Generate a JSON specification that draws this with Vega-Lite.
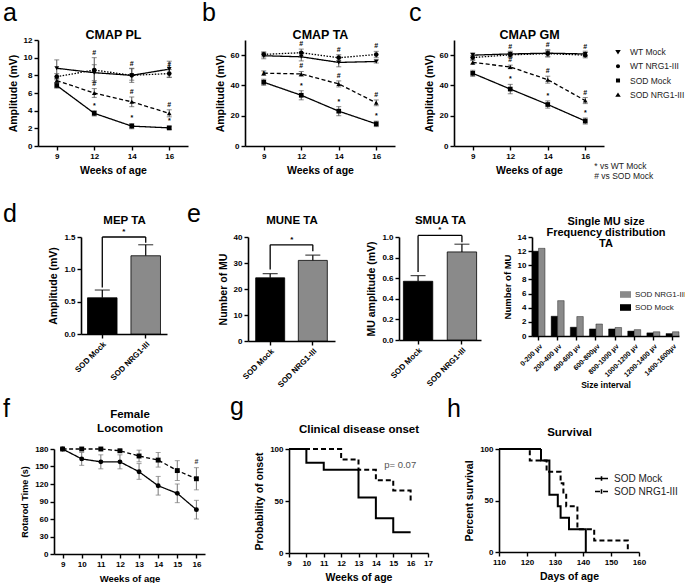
{
  "$schema": "https://vega.github.io/schema/vega-lite/v6.json",
  "padding": {"left": 2, "top": 1, "right": 0, "bottom": 0},
  "background": "white",
  "config": {
    "font": "Liberation Sans",
    "view": {"stroke": null},
    "axis": {"grid": false, "domainColor": "black", "domainWidth": 1.6, "tickColor": "black", "tickWidth": 1.4, "tickSize": 4, "labelColor": "black", "labelFontSize": 8, "labelFontWeight": "bold", "labelFont": "Liberation Sans", "labelPadding": 2, "labelOverlap": false, "labelFlush": false, "titleColor": "black", "titleFontSize": 10.5, "titleFontWeight": "bold", "titleFont": "Liberation Sans", "titlePadding": 5},
    "title": {"anchor": "start", "frame": "group", "fontSize": 25, "fontWeight": "normal", "color": "black", "font": "Liberation Sans", "offset": 0},
    "legend": {"labelFontSize": 8.5, "labelColor": "#222", "labelFont": "Liberation Sans"}
  },
  "datasets": {
    "cmap": [
      {"panel": "a", "group": "WT Mock", "week": 9, "mean": 8.8, "lo": 7.85, "hi": 9.75, "sig": ""},
      {"panel": "a", "group": "WT Mock", "week": 12, "mean": 8.3, "lo": 7.4, "hi": 9.2, "sig": ""},
      {"panel": "a", "group": "WT Mock", "week": 14, "mean": 8.0, "lo": 7.2, "hi": 8.8, "sig": ""},
      {"panel": "a", "group": "WT Mock", "week": 16, "mean": 8.7, "lo": 7.8, "hi": 9.6, "sig": ""},
      {"panel": "a", "group": "WT NRG1-III", "week": 9, "mean": 7.85, "lo": 7.5, "hi": 8.2, "sig": ""},
      {"panel": "a", "group": "WT NRG1-III", "week": 12, "mean": 8.6, "lo": 7.2, "hi": 10.0, "sig": "#"},
      {"panel": "a", "group": "WT NRG1-III", "week": 14, "mean": 8.0, "lo": 7.45, "hi": 8.75, "sig": "#"},
      {"panel": "a", "group": "WT NRG1-III", "week": 16, "mean": 8.2, "lo": 7.75, "hi": 8.65, "sig": "#"},
      {"panel": "a", "group": "SOD Mock", "week": 9, "mean": 6.85, "lo": 6.55, "hi": 7.15, "sig": ""},
      {"panel": "a", "group": "SOD Mock", "week": 12, "mean": 3.7, "lo": 3.4, "hi": 4.0, "sig": "*"},
      {"panel": "a", "group": "SOD Mock", "week": 14, "mean": 2.25, "lo": 1.95, "hi": 2.55, "sig": "*"},
      {"panel": "a", "group": "SOD Mock", "week": 16, "mean": 2.05, "lo": 1.85, "hi": 2.25, "sig": "*"},
      {"panel": "a", "group": "SOD NRG1-III", "week": 9, "mean": 7.4, "lo": 7.15, "hi": 7.65, "sig": ""},
      {"panel": "a", "group": "SOD NRG1-III", "week": 12, "mean": 6.0, "lo": 5.5, "hi": 6.5, "sig": "#"},
      {"panel": "a", "group": "SOD NRG1-III", "week": 14, "mean": 5.0, "lo": 4.45, "hi": 5.55, "sig": "#"},
      {"panel": "a", "group": "SOD NRG1-III", "week": 16, "mean": 3.7, "lo": 3.3, "hi": 4.1, "sig": "#"},
      {"panel": "b", "group": "WT Mock", "week": 9, "mean": 59.6, "lo": 57.6, "hi": 61.6, "sig": ""},
      {"panel": "b", "group": "WT Mock", "week": 12, "mean": 58.9, "lo": 56.2, "hi": 61.6, "sig": ""},
      {"panel": "b", "group": "WT Mock", "week": 14, "mean": 55.2, "lo": 52.3, "hi": 58.1, "sig": ""},
      {"panel": "b", "group": "WT Mock", "week": 16, "mean": 55.8, "lo": 54.8, "hi": 56.8, "sig": ""},
      {"panel": "b", "group": "WT NRG1-III", "week": 9, "mean": 60.5, "lo": 58.8, "hi": 62.2, "sig": ""},
      {"panel": "b", "group": "WT NRG1-III", "week": 12, "mean": 61.6, "lo": 59.2, "hi": 64.0, "sig": "#"},
      {"panel": "b", "group": "WT NRG1-III", "week": 14, "mean": 58.3, "lo": 56.3, "hi": 60.3, "sig": "#"},
      {"panel": "b", "group": "WT NRG1-III", "week": 16, "mean": 60.4, "lo": 58.3, "hi": 62.5, "sig": "#"},
      {"panel": "b", "group": "SOD Mock", "week": 9, "mean": 42.1, "lo": 40.1, "hi": 44.1, "sig": "*"},
      {"panel": "b", "group": "SOD Mock", "week": 12, "mean": 33.5, "lo": 30.5, "hi": 36.5, "sig": "*"},
      {"panel": "b", "group": "SOD Mock", "week": 14, "mean": 23.0, "lo": 20.0, "hi": 26.0, "sig": "*"},
      {"panel": "b", "group": "SOD Mock", "week": 16, "mean": 14.6, "lo": 12.8, "hi": 16.4, "sig": "*"},
      {"panel": "b", "group": "SOD NRG1-III", "week": 9, "mean": 48.1, "lo": 46.6, "hi": 49.6, "sig": ""},
      {"panel": "b", "group": "SOD NRG1-III", "week": 12, "mean": 47.6, "lo": 46.0, "hi": 49.2, "sig": "#"},
      {"panel": "b", "group": "SOD NRG1-III", "week": 14, "mean": 41.0, "lo": 39.0, "hi": 43.0, "sig": "#"},
      {"panel": "b", "group": "SOD NRG1-III", "week": 16, "mean": 28.5, "lo": 26.6, "hi": 30.4, "sig": "#"},
      {"panel": "c", "group": "WT Mock", "week": 9, "mean": 60.0, "lo": 58.5, "hi": 61.5, "sig": ""},
      {"panel": "c", "group": "WT Mock", "week": 12, "mean": 60.8, "lo": 59.0, "hi": 62.6, "sig": ""},
      {"panel": "c", "group": "WT Mock", "week": 14, "mean": 61.3, "lo": 59.0, "hi": 63.6, "sig": ""},
      {"panel": "c", "group": "WT Mock", "week": 16, "mean": 60.8, "lo": 59.0, "hi": 62.6, "sig": ""},
      {"panel": "c", "group": "WT NRG1-III", "week": 9, "mean": 58.4, "lo": 57.0, "hi": 59.8, "sig": ""},
      {"panel": "c", "group": "WT NRG1-III", "week": 12, "mean": 60.2, "lo": 58.4, "hi": 62.0, "sig": "#"},
      {"panel": "c", "group": "WT NRG1-III", "week": 14, "mean": 61.0, "lo": 58.8, "hi": 63.2, "sig": "#"},
      {"panel": "c", "group": "WT NRG1-III", "week": 16, "mean": 60.0, "lo": 58.2, "hi": 61.8, "sig": "#"},
      {"panel": "c", "group": "SOD Mock", "week": 9, "mean": 48.0, "lo": 46.0, "hi": 50.0, "sig": "*"},
      {"panel": "c", "group": "SOD Mock", "week": 12, "mean": 37.6, "lo": 34.5, "hi": 40.7, "sig": "*"},
      {"panel": "c", "group": "SOD Mock", "week": 14, "mean": 27.4, "lo": 25.0, "hi": 29.8, "sig": "*"},
      {"panel": "c", "group": "SOD Mock", "week": 16, "mean": 16.5, "lo": 14.5, "hi": 18.5, "sig": "*"},
      {"panel": "c", "group": "SOD NRG1-III", "week": 9, "mean": 55.2, "lo": 54.0, "hi": 56.4, "sig": ""},
      {"panel": "c", "group": "SOD NRG1-III", "week": 12, "mean": 52.2, "lo": 51.0, "hi": 53.4, "sig": "#"},
      {"panel": "c", "group": "SOD NRG1-III", "week": 14, "mean": 43.8, "lo": 41.5, "hi": 46.1, "sig": "#"},
      {"panel": "c", "group": "SOD NRG1-III", "week": 16, "mean": 30.0, "lo": 28.0, "hi": 32.0, "sig": "#"}
    ],
    "bars": [
      {"panel": "d", "group": "SOD Mock", "mean": 0.56, "hi": 0.68},
      {"panel": "d", "group": "SOD NRG1-III", "mean": 1.21, "hi": 1.38},
      {"panel": "e1", "group": "SOD Mock", "mean": 24.3, "hi": 25.9},
      {"panel": "e1", "group": "SOD NRG1-III", "mean": 31.0, "hi": 33.0},
      {"panel": "e2", "group": "SOD Mock", "mean": 0.57, "hi": 0.625},
      {"panel": "e2", "group": "SOD NRG1-III", "mean": 0.855, "hi": 0.93}
    ],
    "brackets": [
      {"panel": "d", "xa": "SOD Mock", "xb": "SOD Mock", "ya": 0.72, "yb": 1.5, "star": ""},
      {"panel": "d", "xa": "SOD Mock", "xb": "SOD NRG1-III", "ya": 1.5, "yb": 1.5, "star": "*"},
      {"panel": "d", "xa": "SOD NRG1-III", "xb": "SOD NRG1-III", "ya": 1.41, "yb": 1.5, "star": ""},
      {"panel": "e1", "xa": "SOD Mock", "xb": "SOD Mock", "ya": 27.5, "yb": 37, "star": ""},
      {"panel": "e1", "xa": "SOD Mock", "xb": "SOD NRG1-III", "ya": 37, "yb": 37, "star": "*"},
      {"panel": "e1", "xa": "SOD NRG1-III", "xb": "SOD NRG1-III", "ya": 34.5, "yb": 37, "star": ""},
      {"panel": "e2", "xa": "SOD Mock", "xb": "SOD Mock", "ya": 0.66, "yb": 1.015, "star": ""},
      {"panel": "e2", "xa": "SOD Mock", "xb": "SOD NRG1-III", "ya": 1.015, "yb": 1.015, "star": "*"},
      {"panel": "e2", "xa": "SOD NRG1-III", "xb": "SOD NRG1-III", "ya": 0.95, "yb": 1.015, "star": ""}
    ],
    "hist": [
      {"interval": "0-200 μv", "group": "SOD Mock", "count": 12.0},
      {"interval": "0-200 μv", "group": "SOD NRG1-III", "count": 12.4},
      {"interval": "200-400 μv", "group": "SOD Mock", "count": 2.8},
      {"interval": "200-400 μv", "group": "SOD NRG1-III", "count": 5.0},
      {"interval": "400-600 μv", "group": "SOD Mock", "count": 1.25},
      {"interval": "400-600 μv", "group": "SOD NRG1-III", "count": 2.75},
      {"interval": "600-800μv", "group": "SOD Mock", "count": 1.0},
      {"interval": "600-800μv", "group": "SOD NRG1-III", "count": 1.7},
      {"interval": "800-1000 μv", "group": "SOD Mock", "count": 1.0},
      {"interval": "800-1000 μv", "group": "SOD NRG1-III", "count": 1.2},
      {"interval": "1000-1200 μv", "group": "SOD Mock", "count": 0.7},
      {"interval": "1000-1200 μv", "group": "SOD NRG1-III", "count": 0.9},
      {"interval": "1200-1400 μv", "group": "SOD Mock", "count": 0.45},
      {"interval": "1200-1400 μv", "group": "SOD NRG1-III", "count": 0.6},
      {"interval": "1400-1600μv", "group": "SOD Mock", "count": 0.35},
      {"interval": "1400-1600μv", "group": "SOD NRG1-III", "count": 0.6}
    ],
    "loco": [
      {"group": "SOD Mock", "week": 9, "mean": 180, "lo": 180, "hi": 180, "sig": ""},
      {"group": "SOD Mock", "week": 10, "mean": 163, "lo": 152, "hi": 174, "sig": ""},
      {"group": "SOD Mock", "week": 11, "mean": 158, "lo": 146, "hi": 170, "sig": ""},
      {"group": "SOD Mock", "week": 12, "mean": 158, "lo": 146, "hi": 170, "sig": ""},
      {"group": "SOD Mock", "week": 13, "mean": 141, "lo": 128, "hi": 155, "sig": ""},
      {"group": "SOD Mock", "week": 14, "mean": 117, "lo": 101, "hi": 133, "sig": ""},
      {"group": "SOD Mock", "week": 15, "mean": 104, "lo": 88, "hi": 120, "sig": ""},
      {"group": "SOD Mock", "week": 16, "mean": 76, "lo": 60, "hi": 92, "sig": ""},
      {"group": "SOD NRG1-III", "week": 9, "mean": 180, "lo": 180, "hi": 180, "sig": ""},
      {"group": "SOD NRG1-III", "week": 10, "mean": 180, "lo": 180, "hi": 180, "sig": ""},
      {"group": "SOD NRG1-III", "week": 11, "mean": 180, "lo": 180, "hi": 180, "sig": ""},
      {"group": "SOD NRG1-III", "week": 12, "mean": 177, "lo": 175, "hi": 179, "sig": ""},
      {"group": "SOD NRG1-III", "week": 13, "mean": 168, "lo": 158, "hi": 178, "sig": ""},
      {"group": "SOD NRG1-III", "week": 14, "mean": 161, "lo": 149, "hi": 174, "sig": ""},
      {"group": "SOD NRG1-III", "week": 15, "mean": 143, "lo": 126, "hi": 160, "sig": ""},
      {"group": "SOD NRG1-III", "week": 16, "mean": 129, "lo": 110, "hi": 148, "sig": "#"}
    ],
    "onset": [
      {"group": "SOD Mock", "week": 9, "pct": 100},
      {"group": "SOD Mock", "week": 10, "pct": 86.7},
      {"group": "SOD Mock", "week": 11, "pct": 80},
      {"group": "SOD Mock", "week": 13, "pct": 53.3},
      {"group": "SOD Mock", "week": 14, "pct": 33.3},
      {"group": "SOD Mock", "week": 15, "pct": 20},
      {"group": "SOD Mock", "week": 16, "pct": 20},
      {"group": "SOD NRG1-III", "week": 9, "pct": 100},
      {"group": "SOD NRG1-III", "week": 12, "pct": 90},
      {"group": "SOD NRG1-III", "week": 13, "pct": 80},
      {"group": "SOD NRG1-III", "week": 14, "pct": 70},
      {"group": "SOD NRG1-III", "week": 15, "pct": 60},
      {"group": "SOD NRG1-III", "week": 16, "pct": 50}
    ],
    "surv": [
      {"group": "SOD Mock", "day": 110, "pct": 100},
      {"group": "SOD Mock", "day": 125, "pct": 88.9},
      {"group": "SOD Mock", "day": 128, "pct": 55.6},
      {"group": "SOD Mock", "day": 131, "pct": 44.4},
      {"group": "SOD Mock", "day": 132, "pct": 33.3},
      {"group": "SOD Mock", "day": 135, "pct": 22.2},
      {"group": "SOD Mock", "day": 141, "pct": 0},
      {"group": "SOD NRG1-III", "day": 110, "pct": 100},
      {"group": "SOD NRG1-III", "day": 121, "pct": 88.9},
      {"group": "SOD NRG1-III", "day": 127, "pct": 77.8},
      {"group": "SOD NRG1-III", "day": 132, "pct": 66.7},
      {"group": "SOD NRG1-III", "day": 133, "pct": 55.6},
      {"group": "SOD NRG1-III", "day": 134, "pct": 44.4},
      {"group": "SOD NRG1-III", "day": 138, "pct": 22.2},
      {"group": "SOD NRG1-III", "day": 144, "pct": 11.1},
      {"group": "SOD NRG1-III", "day": 156, "pct": 0}
    ]
  },
  "spacing": 21,
  "resolve": {"scale": {"strokeDash": "independent", "shape": "independent", "fill": "independent"}, "legend": {"strokeDash": "independent", "shape": "independent", "fill": "independent"}},
  "vconcat": [
    {
      "spacing": 0,
      "resolve": {"scale": {"strokeDash": "independent", "shape": "independent"}, "legend": {"strokeDash": "independent", "shape": "independent"}},
      "hconcat": [
        {"width": 1, "height": 1, "data": {"values": []}, "mark": "point"},
        {
          "width": 150, "height": 106,
          "title": {"text": "a", "dx": -35, "offset": 2},
          "data": {"name": "cmap"},
          "transform": [{"filter": "datum.panel === 'a'"}],
          "layer": [
            {"mark": {"type": "line", "color": "black", "strokeWidth": 1.3},
             "encoding": {
               "x": {"field": "week", "type": "ordinal", "scale": {"type": "point", "padding": 0.5}, "axis": {"title": "Weeks of age", "labelAngle": 0}},
               "y": {"field": "mean", "type": "quantitative", "scale": {"domain": [0, 12], "nice": false}, "axis": {"title": "Amplitude (mV)", "values": [0, 2, 4, 6, 8, 10, 12]}},
               "strokeDash": {"field": "group", "type": "nominal", "scale": {"domain": ["WT Mock", "WT NRG1-III", "SOD Mock", "SOD NRG1-III"], "range": [[1, 0], [1.5, 1.5], [1, 0], [4, 2.5]]}, "legend": null}}},
            {"mark": {"type": "errorbar", "color": "#555", "thickness": 1, "ticks": {"size": 5}},
             "encoding": {"x": {"field": "week", "type": "ordinal", "axis": null}, "y": {"field": "lo", "type": "quantitative", "axis": null}, "y2": {"field": "hi"}}},
            {"mark": {"type": "point", "filled": true, "color": "black", "size": 22, "opacity": 1},
             "encoding": {"x": {"field": "week", "type": "ordinal", "axis": null}, "y": {"field": "mean", "type": "quantitative", "axis": null},
               "shape": {"field": "group", "type": "nominal", "scale": {"domain": ["WT Mock", "WT NRG1-III", "SOD Mock", "SOD NRG1-III"], "range": ["triangle-down", "circle", "square", "triangle-up"]}, "legend": null}}},
            {"transform": [{"filter": "datum.sig !== ''"}],
             "mark": {"type": "text", "dy": -5, "fontSize": 7, "fontWeight": "bold"},
             "encoding": {"x": {"field": "week", "type": "ordinal", "axis": {"orient": "top", "title": "CMAP PL", "labels": false, "ticks": false, "domain": false, "titleFontSize": 12.5, "titleY": -2, "titleBaseline": "alphabetic"}},
               "y": {"field": "hi", "type": "quantitative", "axis": null}, "text": {"field": "sig"}}}
          ],
          "resolve": {"axis": {"x": "independent", "y": "independent"}}
        },
        {"width": 14, "height": 1, "data": {"values": []}, "mark": "point"},
        {
          "width": 150, "height": 106,
          "title": {"text": "b", "dx": -43, "offset": 2},
          "data": {"name": "cmap"},
          "transform": [{"filter": "datum.panel === 'b'"}],
          "layer": [
            {"mark": {"type": "line", "color": "black", "strokeWidth": 1.3},
             "encoding": {
               "x": {"field": "week", "type": "ordinal", "scale": {"type": "point", "padding": 0.5}, "axis": {"title": "Weeks of age", "labelAngle": 0}},
               "y": {"field": "mean", "type": "quantitative", "scale": {"domain": [0, 70], "nice": false}, "axis": {"title": "Amplitude (mV)", "values": [0, 20, 40, 60]}},
               "strokeDash": {"field": "group", "type": "nominal", "scale": {"domain": ["WT Mock", "WT NRG1-III", "SOD Mock", "SOD NRG1-III"], "range": [[1, 0], [1.5, 1.5], [1, 0], [4, 2.5]]}, "legend": null}}},
            {"mark": {"type": "errorbar", "color": "#555", "thickness": 1, "ticks": {"size": 5}},
             "encoding": {"x": {"field": "week", "type": "ordinal", "axis": null}, "y": {"field": "lo", "type": "quantitative", "axis": null}, "y2": {"field": "hi"}}},
            {"mark": {"type": "point", "filled": true, "color": "black", "size": 22, "opacity": 1},
             "encoding": {"x": {"field": "week", "type": "ordinal", "axis": null}, "y": {"field": "mean", "type": "quantitative", "axis": null},
               "shape": {"field": "group", "type": "nominal", "scale": {"domain": ["WT Mock", "WT NRG1-III", "SOD Mock", "SOD NRG1-III"], "range": ["triangle-down", "circle", "square", "triangle-up"]}, "legend": null}}},
            {"transform": [{"filter": "datum.sig !== ''"}],
             "mark": {"type": "text", "dy": -5, "fontSize": 7, "fontWeight": "bold"},
             "encoding": {"x": {"field": "week", "type": "ordinal", "axis": {"orient": "top", "title": "CMAP TA", "labels": false, "ticks": false, "domain": false, "titleFontSize": 12.5, "titleY": -2, "titleBaseline": "alphabetic"}},
               "y": {"field": "hi", "type": "quantitative", "axis": null}, "text": {"field": "sig"}}}
          ],
          "resolve": {"axis": {"x": "independent", "y": "independent"}}
        },
        {"width": 14, "height": 1, "data": {"values": []}, "mark": "point"},
        {
          "width": 150, "height": 106,
          "title": {"text": "c", "dx": -45, "offset": 2},
          "data": {"name": "cmap"},
          "transform": [{"filter": "datum.panel === 'c'"}],
          "layer": [
            {"mark": {"type": "line", "color": "black", "strokeWidth": 1.3},
             "encoding": {
               "x": {"field": "week", "type": "ordinal", "scale": {"type": "point", "padding": 0.5}, "axis": {"title": "Weeks of age", "labelAngle": 0}},
               "y": {"field": "mean", "type": "quantitative", "scale": {"domain": [0, 70], "nice": false}, "axis": {"title": "Amplitude (mV)", "values": [0, 20, 40, 60]}},
               "strokeDash": {"field": "group", "type": "nominal", "scale": {"domain": ["WT Mock", "WT NRG1-III", "SOD Mock", "SOD NRG1-III"], "range": [[1, 0], [1.5, 1.5], [1, 0], [4, 2.5]]}, "legend": null}}},
            {"mark": {"type": "errorbar", "color": "#555", "thickness": 1, "ticks": {"size": 5}},
             "encoding": {"x": {"field": "week", "type": "ordinal", "axis": null}, "y": {"field": "lo", "type": "quantitative", "axis": null}, "y2": {"field": "hi"}}},
            {"mark": {"type": "point", "filled": true, "color": "black", "size": 22, "opacity": 1},
             "encoding": {"x": {"field": "week", "type": "ordinal", "axis": null}, "y": {"field": "mean", "type": "quantitative", "axis": null},
               "shape": {"field": "group", "type": "nominal", "scale": {"domain": ["WT Mock", "WT NRG1-III", "SOD Mock", "SOD NRG1-III"], "range": ["triangle-down", "circle", "square", "triangle-up"]}, "legend": null}}},
            {"mark": {"type": "point", "filled": true, "color": "black", "size": 10, "opacity": 0},
             "encoding": {"x": {"field": "week", "type": "ordinal", "axis": null}, "y": {"field": "mean", "type": "quantitative", "axis": null},
               "shape": {"field": "group", "type": "nominal", "scale": {"domain": ["WT Mock", "WT NRG1-III", "SOD Mock", "SOD NRG1-III"], "range": ["M-1,0H1M-0.45,-0.32H0.45L0,0.4Z", "M-1,0H1M-0.33,0A0.33,0.33 0 1,0 0.33,0A0.33,0.33 0 1,0 -0.33,0Z", "M-1,0H1M-0.33,-0.33H0.33V0.33H-0.33Z", "M-1,0H1M-0.45,0.32H0.45L0,-0.4Z"]},
                 "legend": {"title": null, "orient": "right", "offset": 2, "padding": 5, "rowPadding": 2.3, "symbolSize": 150, "symbolOpacity": 1, "symbolFillColor": "black", "symbolStrokeColor": "black", "symbolStrokeWidth": 1.2, "labelFontSize": 8.5, "labelOffset": 5}},
               "strokeDash": {"field": "group", "type": "nominal", "scale": {"domain": ["WT Mock", "WT NRG1-III", "SOD Mock", "SOD NRG1-III"], "range": [[1, 0], [1.5, 1.5], [1, 0], [4, 2.5]]},
                 "legend": {"title": null, "orient": "right", "offset": 2, "padding": 5, "rowPadding": 2.3, "symbolSize": 150, "symbolOpacity": 1, "symbolFillColor": "black", "symbolStrokeColor": "black", "symbolStrokeWidth": 1.2, "labelFontSize": 8.5, "labelOffset": 5}}}},
            {"transform": [{"filter": "datum.sig !== ''"}],
             "mark": {"type": "text", "dy": -5, "fontSize": 7, "fontWeight": "bold"},
             "encoding": {"x": {"field": "week", "type": "ordinal", "axis": {"orient": "top", "title": "CMAP GM", "labels": false, "ticks": false, "domain": false, "titleFontSize": 12.5, "titleY": -2, "titleBaseline": "alphabetic"}},
               "y": {"field": "hi", "type": "quantitative", "axis": null}, "text": {"field": "sig"}}},
            {"data": {"values": [{"panel": "c", "note": "* vs WT Mock\n# vs SOD Mock"}]},
             "mark": {"type": "text", "align": "left", "baseline": "top", "dx": 9, "fontSize": 8.5, "lineBreak": "\n", "lineHeight": 10, "color": "#222"},
             "encoding": {"x": {"datum": 16, "type": "ordinal", "axis": null}, "y": {"datum": -10.6, "type": "quantitative", "axis": null}, "text": {"field": "note"}}}
          ],
          "resolve": {"axis": {"x": "independent", "y": "independent"}, "scale": {"shape": "independent", "strokeDash": "independent"}, "legend": {"shape": "independent", "strokeDash": "independent"}}
        }
      ]
    },
    {
      "spacing": 5,
      "resolve": {"scale": {"strokeDash": "independent", "shape": "independent", "fill": "independent"}, "legend": {"strokeDash": "independent", "shape": "independent", "fill": "independent"}},
      "vconcat": [
        {
          "spacing": 0,
          "resolve": {"scale": {"fill": "independent"}, "legend": {"fill": "independent"}},
          "hconcat": [
            {"width": 1, "height": 1, "data": {"values": []}, "mark": "point"},
            {
              "width": 86, "height": 97,
              "title": {"text": "d", "dx": -78, "offset": -13},
              "layer": [
                {"data": {"name": "bars"}, "transform": [{"filter": "datum.panel === 'd'"}],
                 "mark": {"type": "rule", "color": "black", "strokeWidth": 1.2},
                 "encoding": {"x": {"field": "group", "type": "nominal", "scale": {"paddingInner": 0.32, "paddingOuter": 0.15}, "axis": {"title": null, "labelAngle": -45}},
                   "y": {"field": "mean", "type": "quantitative", "scale": {"domain": [0, 1.5], "nice": false}, "axis": {"title": "Amplitude (mV)", "values": [0, 0.5, 1, 1.5], "format": ".1f"}},
                   "y2": {"field": "hi"}}},
                {"data": {"name": "bars"}, "transform": [{"filter": "datum.panel === 'd'"}],
                 "mark": {"type": "tick", "color": "black", "thickness": 1.2, "size": 15},
                 "encoding": {"x": {"field": "group", "type": "nominal", "axis": null}, "y": {"field": "hi", "type": "quantitative", "axis": null}}},
                {"data": {"name": "bars"}, "transform": [{"filter": "datum.panel === 'd'"}],
                 "mark": {"type": "bar", "stroke": "black", "strokeWidth": 0.8},
                 "encoding": {"x": {"field": "group", "type": "nominal", "axis": null}, "y": {"field": "mean", "type": "quantitative", "axis": null},
                   "fill": {"field": "group", "type": "nominal", "scale": {"domain": ["SOD Mock", "SOD NRG1-III"], "range": ["black", "#8a8a8a"]}, "legend": null}}},
                {"data": {"name": "brackets"}, "transform": [{"filter": "datum.panel === 'd'"}],
                 "mark": {"type": "rule", "color": "black", "strokeWidth": 1.3},
                 "encoding": {"x": {"field": "xa", "type": "nominal", "axis": null}, "x2": {"field": "xb"}, "y": {"field": "ya", "type": "quantitative", "axis": null}, "y2": {"field": "yb"}}},
                {"data": {"name": "brackets"}, "transform": [{"filter": "datum.panel === 'd' && datum.star !== ''"}],
                 "mark": {"type": "text", "dx": 21.5, "dy": -5, "fontSize": 8, "fontWeight": "bold"},
                 "encoding": {"x": {"field": "xa", "type": "nominal", "axis": {"orient": "top", "title": "MEP TA", "labels": false, "ticks": false, "domain": false, "titleFontSize": 11.5, "titleY": -14, "titleBaseline": "alphabetic"}},
                   "y": {"field": "ya", "type": "quantitative", "axis": null}, "text": {"field": "star"}}}
              ],
              "resolve": {"axis": {"x": "independent", "y": "independent"}}
            },
            {"width": 20, "height": 1, "data": {"values": []}, "mark": "point"},
            {
              "width": 87, "height": 104,
              "title": {"text": "e", "dx": -61, "offset": -13},
              "layer": [
                {"data": {"name": "bars"}, "transform": [{"filter": "datum.panel === 'e1'"}],
                 "mark": {"type": "rule", "color": "black", "strokeWidth": 1.2},
                 "encoding": {"x": {"field": "group", "type": "nominal", "scale": {"paddingInner": 0.32, "paddingOuter": 0.18}, "axis": {"title": null, "labelAngle": -45}},
                   "y": {"field": "mean", "type": "quantitative", "scale": {"domain": [0, 40], "nice": false}, "axis": {"title": "Number of MU", "values": [0, 10, 20, 30, 40]}},
                   "y2": {"field": "hi"}}},
                {"data": {"name": "bars"}, "transform": [{"filter": "datum.panel === 'e1'"}],
                 "mark": {"type": "tick", "color": "black", "thickness": 1.2, "size": 15},
                 "encoding": {"x": {"field": "group", "type": "nominal", "axis": null}, "y": {"field": "hi", "type": "quantitative", "axis": null}}},
                {"data": {"name": "bars"}, "transform": [{"filter": "datum.panel === 'e1'"}],
                 "mark": {"type": "bar", "stroke": "black", "strokeWidth": 0.8},
                 "encoding": {"x": {"field": "group", "type": "nominal", "axis": null}, "y": {"field": "mean", "type": "quantitative", "axis": null},
                   "fill": {"field": "group", "type": "nominal", "scale": {"domain": ["SOD Mock", "SOD NRG1-III"], "range": ["black", "#8a8a8a"]}, "legend": null}}},
                {"data": {"name": "brackets"}, "transform": [{"filter": "datum.panel === 'e1'"}],
                 "mark": {"type": "rule", "color": "black", "strokeWidth": 1.3},
                 "encoding": {"x": {"field": "xa", "type": "nominal", "axis": null}, "x2": {"field": "xb"}, "y": {"field": "ya", "type": "quantitative", "axis": null}, "y2": {"field": "yb"}}},
                {"data": {"name": "brackets"}, "transform": [{"filter": "datum.panel === 'e1' && datum.star !== ''"}],
                 "mark": {"type": "text", "dx": 21.7, "dy": -5, "fontSize": 8, "fontWeight": "bold"},
                 "encoding": {"x": {"field": "xa", "type": "nominal", "axis": {"orient": "top", "title": "MUNE TA", "labels": false, "ticks": false, "domain": false, "titleFontSize": 11.5, "titleY": -14, "titleBaseline": "alphabetic"}},
                   "y": {"field": "ya", "type": "quantitative", "axis": null}, "text": {"field": "star"}}}
              ],
              "resolve": {"axis": {"x": "independent", "y": "independent"}}
            },
            {"width": 19, "height": 1, "data": {"values": []}, "mark": "point"},
            {
              "width": 82, "height": 103,
              "title": {"text": " ", "dx": -45, "offset": -13},
              "layer": [
                {"data": {"name": "bars"}, "transform": [{"filter": "datum.panel === 'e2'"}],
                 "mark": {"type": "rule", "color": "black", "strokeWidth": 1.2},
                 "encoding": {"x": {"field": "group", "type": "nominal", "scale": {"paddingInner": 0.33, "paddingOuter": 0.1}, "axis": {"title": null, "labelAngle": -45}},
                   "y": {"field": "mean", "type": "quantitative", "scale": {"domain": [0, 1], "nice": false}, "axis": {"title": "MU amplitude (mV)", "values": [0, 0.2, 0.4, 0.6, 0.8, 1], "format": ".1f"}},
                   "y2": {"field": "hi"}}},
                {"data": {"name": "bars"}, "transform": [{"filter": "datum.panel === 'e2'"}],
                 "mark": {"type": "tick", "color": "black", "thickness": 1.2, "size": 15},
                 "encoding": {"x": {"field": "group", "type": "nominal", "axis": null}, "y": {"field": "hi", "type": "quantitative", "axis": null}}},
                {"data": {"name": "bars"}, "transform": [{"filter": "datum.panel === 'e2'"}],
                 "mark": {"type": "bar", "stroke": "black", "strokeWidth": 0.8},
                 "encoding": {"x": {"field": "group", "type": "nominal", "axis": null}, "y": {"field": "mean", "type": "quantitative", "axis": null},
                   "fill": {"field": "group", "type": "nominal", "scale": {"domain": ["SOD Mock", "SOD NRG1-III"], "range": ["black", "#8a8a8a"]}, "legend": null}}},
                {"data": {"name": "brackets"}, "transform": [{"filter": "datum.panel === 'e2'"}],
                 "mark": {"type": "rule", "color": "black", "strokeWidth": 1.3},
                 "encoding": {"x": {"field": "xa", "type": "nominal", "axis": null}, "x2": {"field": "xb"}, "y": {"field": "ya", "type": "quantitative", "axis": null}, "y2": {"field": "yb"}}},
                {"data": {"name": "brackets"}, "transform": [{"filter": "datum.panel === 'e2' && datum.star !== ''"}],
                 "mark": {"type": "text", "dx": 21.7, "dy": -5, "fontSize": 8, "fontWeight": "bold"},
                 "encoding": {"x": {"field": "xa", "type": "nominal", "axis": {"orient": "top", "title": "SMUA TA", "labels": false, "ticks": false, "domain": false, "titleFontSize": 11.5, "titleY": -14, "titleBaseline": "alphabetic"}},
                   "y": {"field": "ya", "type": "quantitative", "axis": null}, "text": {"field": "star"}}}
              ],
              "resolve": {"axis": {"x": "independent", "y": "independent"}}
            },
            {"width": 11, "height": 1, "data": {"values": []}, "mark": "point"},
            {
              "width": 147, "height": 99,
              "title": {"text": " ", "dx": -40, "offset": -13},
              "data": {"name": "hist"},
              "layer": [
                {"mark": {"type": "bar", "stroke": "black", "strokeWidth": 0.4},
                 "encoding": {
                   "x": {"field": "interval", "type": "nominal", "scale": {"domain": ["0-200 μv", "200-400 μv", "400-600 μv", "600-800μv", "800-1000 μv", "1000-1200 μv", "1200-1400 μv", "1400-1600μv"], "paddingInner": 0.32, "paddingOuter": 0}, "axis": {"title": "Size interval", "labelAngle": -45, "labelFontSize": 7, "titleFontSize": 8.5, "titlePadding": 3}},
                   "xOffset": {"field": "group", "type": "nominal", "scale": {"domain": ["SOD Mock", "SOD NRG1-III"]}},
                   "y": {"field": "count", "type": "quantitative", "scale": {"domain": [0, 14], "nice": false}, "axis": {"title": "Number of MU", "values": [0, 2, 4, 6, 8, 10, 12, 14], "titleFontSize": 9.5}},
                   "fill": {"field": "group", "type": "nominal", "scale": {"domain": ["SOD NRG1-III", "SOD Mock"], "range": ["#8a8a8a", "black"]},
                     "legend": {"title": null, "orient": "none", "legendX": 88, "legendY": 52, "symbolType": "M-1,-0.6H1V0.6H-1Z", "symbolSize": 121, "symbolStrokeWidth": 0, "rowPadding": 3, "labelOffset": 4, "labelFontSize": 8}}}},
                {"mark": {"type": "text"},
                 "encoding": {"x": {"field": "interval", "type": "nominal", "axis": {"orient": "top", "title": ["Single MU size", "Frequency distribution", "TA"], "labels": false, "ticks": false, "domain": false, "titleFontSize": 11, "titleY": -13, "titleBaseline": "alphabetic", "titleLineHeight": 11.3}},
                   "text": {"value": ""}}}
              ],
              "resolve": {"axis": {"x": "independent"}}
            }
          ]
        },
        {
          "spacing": 0,
          "resolve": {"scale": {"strokeDash": "independent", "shape": "independent"}, "legend": {"strokeDash": "independent", "shape": "independent"}},
          "hconcat": [
            {"width": 1, "height": 1, "data": {"values": []}, "mark": "point"},
            {
              "width": 151, "height": 105,
              "title": {"text": "f", "dx": -51, "offset": -14},
              "data": {"name": "loco"},
              "layer": [
                {"mark": {"type": "line", "color": "black", "strokeWidth": 1.3},
                 "encoding": {
                   "x": {"field": "week", "type": "ordinal", "scale": {"type": "point", "padding": 0.45}, "axis": {"title": "Weeks of age", "labelAngle": 0, "titleFontSize": 9.5}},
                   "y": {"field": "mean", "type": "quantitative", "scale": {"domain": [0, 180], "nice": false}, "axis": {"title": "Rotarod Time (s)", "values": [0, 30, 60, 90, 120, 150, 180], "titleFontSize": 9}},
                   "strokeDash": {"field": "group", "type": "nominal", "scale": {"domain": ["SOD Mock", "SOD NRG1-III"], "range": [[1, 0], [4, 2.5]]}, "legend": null}}},
                {"mark": {"type": "errorbar", "color": "#777", "thickness": 1, "ticks": {"size": 5}},
                 "encoding": {"x": {"field": "week", "type": "ordinal", "axis": null}, "y": {"field": "lo", "type": "quantitative", "axis": null}, "y2": {"field": "hi"}}},
                {"mark": {"type": "point", "filled": true, "color": "black", "size": 24, "opacity": 1},
                 "encoding": {"x": {"field": "week", "type": "ordinal", "axis": null}, "y": {"field": "mean", "type": "quantitative", "axis": null},
                   "shape": {"field": "group", "type": "nominal", "scale": {"domain": ["SOD Mock", "SOD NRG1-III"], "range": ["circle", "square"]}, "legend": null}}},
                {"transform": [{"filter": "datum.sig !== ''"}],
                 "mark": {"type": "text", "dy": -6, "fontSize": 7, "fontWeight": "bold", "color": "#333"},
                 "encoding": {"x": {"field": "week", "type": "ordinal", "axis": {"orient": "top", "title": ["Female", "Locomotion"], "labels": false, "ticks": false, "domain": false, "titleFontSize": 11.5, "titleY": -32, "titleBaseline": "alphabetic", "titleLineHeight": 14.5}},
                   "y": {"field": "hi", "type": "quantitative", "axis": null}, "text": {"field": "sig"}}}
              ],
              "resolve": {"axis": {"x": "independent", "y": "independent"}}
            },
            {"width": 25, "height": 1, "data": {"values": []}, "mark": "point"},
            {
              "width": 139, "height": 104,
              "title": {"text": "g", "dx": -59, "offset": 3},
              "layer": [
                {"data": {"name": "onset"},
                 "mark": {"type": "line", "color": "black", "strokeWidth": 2, "interpolate": "step-after"},
                 "encoding": {
                   "x": {"field": "week", "type": "quantitative", "scale": {"domain": [9, 17], "nice": false}, "axis": {"title": "Weeks of age", "values": [9, 10, 11, 12, 13, 14, 15, 16, 17]}},
                   "y": {"field": "pct", "type": "quantitative", "scale": {"domain": [0, 100], "nice": false}, "axis": {"title": "Probability of onset", "values": [0, 50, 100]}},
                   "strokeDash": {"field": "group", "type": "nominal", "scale": {"domain": ["SOD Mock", "SOD NRG1-III"], "range": [[1, 0], [5, 3]]}, "legend": null}}},
                {"data": {"values": [{"label": "p= 0.07"}]},
                 "mark": {"type": "text", "fontSize": 9.5, "color": "#555", "align": "center"},
                 "encoding": {"x": {"datum": 15.4, "type": "quantitative", "axis": {"orient": "top", "title": "Clinical disease onset", "labels": false, "ticks": false, "domain": false, "titleFontSize": 11.5, "titleY": -17, "titleBaseline": "alphabetic"}},
                   "y": {"datum": 85, "type": "quantitative", "axis": null}, "text": {"field": "label"}}}
              ],
              "resolve": {"axis": {"x": "independent", "y": "independent"}}
            },
            {"width": 14, "height": 1, "data": {"values": []}, "mark": "point"},
            {
              "width": 140, "height": 103,
              "title": {"text": "h", "dx": -52, "offset": 4},
              "data": {"name": "surv"},
              "layer": [
                {"mark": {"type": "line", "color": "black", "strokeWidth": 2, "interpolate": "step-after"},
                 "encoding": {
                   "x": {"field": "day", "type": "quantitative", "scale": {"domain": [110, 160], "nice": false}, "axis": {"title": "Days of age", "values": [110, 120, 130, 140, 150, 160]}},
                   "y": {"field": "pct", "type": "quantitative", "scale": {"domain": [0, 100], "nice": false}, "axis": {"title": "Percent survival", "values": [0, 50, 100]}},
                   "strokeDash": {"field": "group", "type": "nominal", "scale": {"domain": ["SOD Mock", "SOD NRG1-III"], "range": [[1, 0], [5, 3]]},
                     "legend": {"title": null, "orient": "right", "offset": -67, "padding": 22, "rowPadding": 0, "symbolType": "M-1,0H1M0,-0.35V0.35", "symbolSize": 169, "symbolStrokeWidth": 1.6, "symbolStrokeColor": "black", "labelFontSize": 10, "labelOffset": 5}}}},
                {"mark": {"type": "text"},
                 "encoding": {"x": {"field": "day", "type": "quantitative", "axis": {"orient": "top", "title": "Survival", "labels": false, "ticks": false, "domain": false, "titleFontSize": 11.5, "titleY": -14, "titleBaseline": "alphabetic"}},
                   "text": {"value": ""}}}
              ],
              "resolve": {"axis": {"x": "independent"}}
            }
          ]
        }
      ]
    }
  ]
}
